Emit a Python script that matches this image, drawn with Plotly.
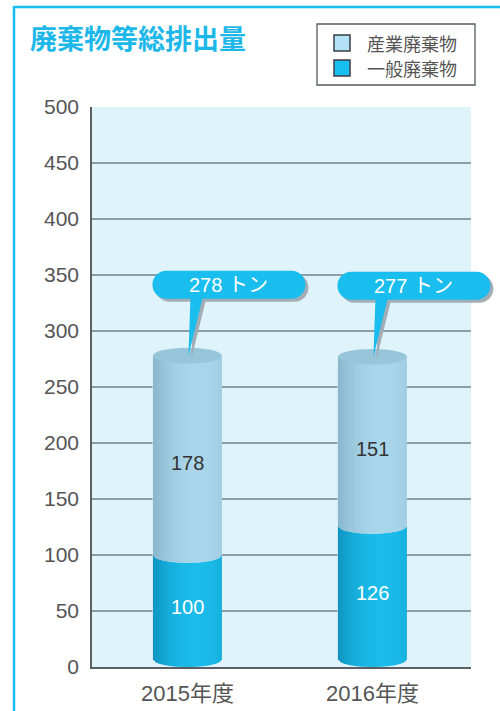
import math
import plotly.graph_objects as go

# ---------------- data ----------------
categories = ["2015年度", "2016年度"]
industrial = [178, 151]   # 産業廃棄物
general = [100, 126]      # 一般廃棄物
series_names = ["産業廃棄物", "一般廃棄物"]
y_ticks = [0, 50, 100, 150, 200, 250, 300, 350, 400, 450, 500]
unit = "トン"
title_text = "廃棄物等総排出量"

# ---------------- layout geometry ----------------
W, H = 500, 711
ML, MR, MT, MB = 92, 29, 107, 44
PW, PH = W - ML - MR, H - MT - MB
XMIN, XMAX = -0.516, 1.533
YMIN, YMAX = 0, 500
BAR_W = 0.373
RY = 7.0  # ellipse half height (data units)

def paper_x(px):
    return (px - ML) / PW

def paper_y(py):
    return (H - MB - py) / PH

def dx_to_paper(x):
    return (x - XMIN) / (XMAX - XMIN)

def dy_to_paper(y):
    return (y - YMIN) / (YMAX - YMIN)

FONT = "Liberation Sans, Arial, Noto Sans CJK JP"
CJK = "Noto Sans CJK JP, Liberation Sans"
CYAN = "#19bdee"

fig = go.Figure()

# transparent data bars (hover) – the visual cylinders are drawn as shapes below
fig.add_trace(go.Bar(x=[0, 1], y=general, name=series_names[1], width=BAR_W,
                     marker=dict(color="rgba(0,0,0,0)"), showlegend=False,
                     hovertext=categories, hoverinfo="text+y"))
fig.add_trace(go.Bar(x=[0, 1], y=industrial, name=series_names[0], width=BAR_W,
                     marker=dict(color="rgba(0,0,0,0)"), showlegend=False,
                     hovertext=categories, hoverinfo="text+y"))

shapes = []
annotations = []

# gridlines
for t in y_ticks[1:-1]:
    shapes.append(dict(type="line", xref="paper", yref="y", x0=0, x1=1, y0=t, y1=t,
                       line=dict(color="#3e4953", width=1.2), layer="below"))

def mix(c1, c2, t):
    return "rgb(%d,%d,%d)" % tuple(round(a + (b - a) * t) for a, b in zip(c1, c2))

def shade(u):
    t = 1 - ((u - 0.3) / 1.3) ** 2
    return max(0.0, min(1.0, t))

LIGHT_D, LIGHT_L = (136, 182, 204), (170, 214, 235)
GEN_D, GEN_L = (14, 148, 194), (26, 188, 234)
N = 32

for i in range(len(categories)):
    c = i
    v1 = general[i]
    tot = general[i] + industrial[i]
    for seg in range(2):
        for k in range(N):
            u0 = -1 + 2 * k / N
            u1 = min(1.0, -1 + 2 * (k + 1.35) / N)
            um = -1 + 2 * (k + 0.5) / N
            x0 = c + u0 * BAR_W / 2
            x1 = c + u1 * BAR_W / 2
            e0 = RY * math.sqrt(max(0.0, 1 - u0 * u0))
            e1 = RY * math.sqrt(max(0.0, 1 - u1 * u1))
            if seg == 0:
                yb0, yb1 = RY - e0, RY - e1
                yt0, yt1 = v1 - e0, v1 - e1
                col = mix(GEN_D, GEN_L, shade(um))
            else:
                yb0, yb1 = v1 - e0, v1 - e1
                yt0, yt1 = tot, tot
                col = mix(LIGHT_D, LIGHT_L, shade(um))
            path = f"M {x0},{yb0} L {x1},{yb1} L {x1},{yt1} L {x0},{yt0} Z"
            shapes.append(dict(type="path", xref="x", yref="y", path=path,
                               fillcolor=col, line=dict(width=0), layer="above"))
    # top cap
    shapes.append(dict(type="circle", xref="x", yref="y",
                       x0=c - BAR_W / 2, x1=c + BAR_W / 2, y0=tot - RY, y1=tot + RY,
                       fillcolor="#97c5da", line=dict(width=0), layer="above"))

    # in-bar labels
    annotations.append(dict(x=c, y=(v1 + RY) / 2, xref="x", yref="y", text=str(general[i]),
                            showarrow=False, xanchor="center", yanchor="middle",
                            font=dict(family=FONT, size=20, color="white")))
    annotations.append(dict(x=c, y=v1 + industrial[i] / 2 - RY, xref="x", yref="y",
                            text=str(industrial[i]), showarrow=False,
                            xanchor="center", yanchor="middle",
                            font=dict(family=FONT, size=20, color="#333333")))

    # callout
    Lb, Rb, Bb, Tb, r = -35, 118, 57, 85, 14
    k_ = 0.5523 * r
    def pill(ox, oy):
        def P(x, y):
            return f"{x + ox},{y + oy}"
        return (f"M {P(Lb + r, Bb)} L {P(3, Bb)} L {P(1, 0)} L {P(15, Bb)} L {P(Rb - r, Bb)} "
                f"C {P(Rb - r + k_, Bb)} {P(Rb, Bb + r - k_)} {P(Rb, Bb + r)} "
                f"L {P(Rb, Tb - r)} "
                f"C {P(Rb, Tb - r + k_)} {P(Rb - r + k_, Tb)} {P(Rb - r, Tb)} "
                f"L {P(Lb + r, Tb)} "
                f"C {P(Lb + r - k_, Tb)} {P(Lb, Tb - r + k_)} {P(Lb, Tb - r)} "
                f"L {P(Lb, Bb + r)} "
                f"C {P(Lb, Bb + r - k_)} {P(Lb + r - k_, Bb)} {P(Lb + r, Bb)} Z")
    ax_, ay_ = dx_to_paper(c), dy_to_paper(tot)
    shapes.append(dict(type="path", xref="paper", yref="paper", xsizemode="pixel",
                       ysizemode="pixel", xanchor=ax_, yanchor=ay_, path=pill(3, -3),
                       fillcolor="#a3adb5", line=dict(width=0), layer="above"))
    shapes.append(dict(type="path", xref="paper", yref="paper", xsizemode="pixel",
                       ysizemode="pixel", xanchor=ax_, yanchor=ay_, path=pill(0, 0),
                       fillcolor=CYAN, line=dict(width=0), layer="above"))
    annotations.append(dict(x=ax_, y=ay_, xref="paper", yref="paper", xshift=41, yshift=71,
                            xanchor="center", yanchor="middle",
                            text=f"{tot} {unit}", showarrow=False,
                            font=dict(family=FONT, size=20, color="white")))

# frame lines (cyan)
shapes.append(dict(type="line", xref="paper", yref="paper", x0=paper_x(13.5), x1=paper_x(500),
                   y0=paper_y(7), y1=paper_y(7), line=dict(color=CYAN, width=2.5), layer="above"))
shapes.append(dict(type="line", xref="paper", yref="paper", x0=paper_x(14), x1=paper_x(14),
                   y0=paper_y(6), y1=paper_y(711), line=dict(color=CYAN, width=2.5), layer="above"))

# title
annotations.append(dict(x=paper_x(28), y=paper_y(37), xref="paper", yref="paper",
                        xanchor="left", yanchor="middle", text=f"<b>{title_text}</b>",
                        showarrow=False, font=dict(family=CJK, size=27, color="#1db8e9")))

# manual legend
shapes.append(dict(type="rect", xref="paper", yref="paper", x0=paper_x(317), x1=paper_x(475),
                   y0=paper_y(24), y1=paper_y(85), fillcolor="white",
                   line=dict(color="#555b60", width=1.3), layer="above"))
legend_colors = ["#b3e1f6", "#17bff0"]
for j, (name, col) in enumerate(zip(series_names, legend_colors)):
    cy = 43 + j * 25
    shapes.append(dict(type="rect", xref="paper", yref="paper", x0=paper_x(334), x1=paper_x(350),
                       y0=paper_y(cy - 8), y1=paper_y(cy + 8), fillcolor=col,
                       line=dict(color="#3a3f44", width=1.5), layer="above"))
    annotations.append(dict(x=paper_x(365), y=paper_y(cy), xref="paper", yref="paper",
                            xanchor="left", yanchor="middle", text=name, showarrow=False,
                            font=dict(family=CJK, size=18, color="#555555")))

fig.update_layout(
    width=W, height=H,
    margin=dict(l=ML, r=MR, t=MT, b=MB, pad=0, autoexpand=False),
    paper_bgcolor="white", plot_bgcolor="#dff3fa",
    barmode="stack", showlegend=False,
    shapes=shapes, annotations=annotations,
    xaxis=dict(range=[XMIN, XMAX], tickvals=[0, 1], ticktext=categories,
               showgrid=False, zeroline=False, showline=True, linecolor="#5a6066",
               linewidth=1.5, ticks="outside", ticklen=6, tickcolor="rgba(0,0,0,0)",
               tickfont=dict(family=FONT, size=22, color="#555555"), fixedrange=True),
    yaxis=dict(range=[YMIN, YMAX], tickvals=y_ticks, showgrid=False, zeroline=False,
               showline=True, linecolor="#5a6066", linewidth=1.5, ticks="outside",
               ticklen=7, tickcolor="rgba(0,0,0,0)",
               tickfont=dict(family=FONT, size=21, color="#555555"), fixedrange=True),
)

fig.write_html("out.html", config={"displayModeBar": False},
               post_script="document.body.style.margin='0';document.body.style.overflow='hidden';")
